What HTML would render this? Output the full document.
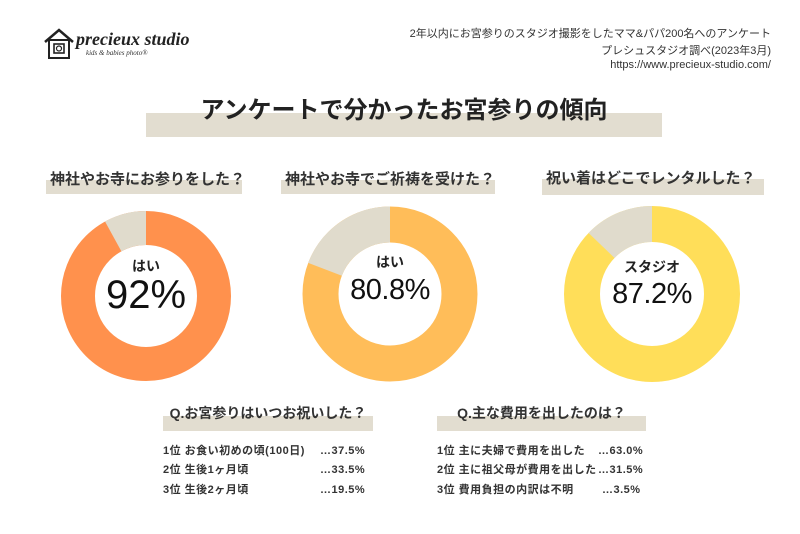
<!DOCTYPE html>
<html><head><meta charset="utf-8"><style>
body{margin:0;width:800px;height:534px;background:#fff;position:relative;overflow:hidden;font-family:"Liberation Sans","Noto Sans CJK JP",sans-serif;color:#222}
.a{position:absolute;white-space:nowrap}
.bar{position:absolute;background:#e2ddd0}
.h{font-weight:bold;font-size:15px;color:#333}
.r{font-size:11px;color:#333;right:29px;text-align:right}
.l{font-size:11px;color:#333;font-weight:bold;letter-spacing:0.5px;line-height:14px}
.p{line-height:1;text-align:center}
</style></head><body>
<svg class="a" style="left:43px;top:28px" width="32" height="34" viewBox="0 0 32 34">
<path d="M2 14 L16 2 L30 14" fill="none" stroke="#222" stroke-width="2.5"/>
<rect x="6" y="12" width="20" height="18" fill="none" stroke="#222" stroke-width="2"/>
<rect x="11" y="16" width="10" height="9" fill="none" stroke="#222" stroke-width="1.6"/>
<circle cx="16" cy="20.5" r="2.5" fill="none" stroke="#222" stroke-width="1.2"/>
</svg>
<div class="a" style="left:76px;top:29px;font-family:'Liberation Serif',serif;font-style:italic;font-weight:bold;font-size:18px;color:#222">precieux studio</div>
<div class="a" style="left:86px;top:49px;font-family:'Liberation Serif',serif;font-style:italic;font-size:7px;color:#333">kids &amp; babies photo®</div>
<div class="a r" style="top:25px">2年以内にお宮参りのスタジオ撮影をしたママ&amp;パパ200名へのアンケート</div>
<div class="a r" style="top:42px">プレシュスタジオ調べ(2023年3月)</div>
<div class="a r" style="top:59px">https://www.precieux-studio.com/</div>
<div class="bar" style="left:146px;top:113px;width:516px;height:24px"></div>
<div class="a" style="left:146px;width:516px;text-align:center;top:90px;font-size:24px;font-weight:bold;color:#222">アンケートで分かったお宮参りの傾向</div>
<div class="bar" style="left:46px;top:180px;width:196px;height:14px"></div>
<div class="a h" style="left:50px;top:168px">神社やお寺にお参りをした？</div>
<div class="bar" style="left:281px;top:180px;width:214px;height:14px"></div>
<div class="a h" style="left:285px;top:168px">神社やお寺でご祈祷を受けた？</div>
<div class="bar" style="left:542px;top:179px;width:222px;height:16px"></div>
<div class="a h" style="left:546px;top:167px">祝い着はどこでレンタルした？</div>
<svg class="a" style="left:0;top:0" width="800" height="534">
<g transform="translate(146,296)"><circle r="68" fill="none" stroke="#ff914d" stroke-width="34"/>
<circle r="68" fill="none" stroke="#e0dbcc" stroke-width="34" stroke-dasharray="34.2 1000" transform="rotate(-90) scale(1,-1)"/></g>
<g transform="translate(390,294)"><circle r="69.5" fill="none" stroke="#ffbd59" stroke-width="36"/>
<circle r="69.5" fill="none" stroke="#e0dbcc" stroke-width="36" stroke-dasharray="83.9 1000" transform="rotate(-90) scale(1,-1)"/></g>
<g transform="translate(652,294)"><circle r="70" fill="none" stroke="#ffde59" stroke-width="36"/>
<circle r="70" fill="none" stroke="#e0dbcc" stroke-width="36" stroke-dasharray="56.3 1000" transform="rotate(-90) scale(1,-1)"/></g>
</svg>
<div class="a" style="left:96px;width:100px;text-align:center;top:256px;font-size:14px;font-weight:bold">はい</div>
<div class="a p" style="left:86px;width:120px;top:275px;font-size:40px;color:#111">92%</div>
<div class="a" style="left:340px;width:100px;text-align:center;top:252px;font-size:14px;font-weight:bold">はい</div>
<div class="a p" style="left:330px;width:120px;top:276px;font-size:29px;letter-spacing:-0.5px;color:#111">80.8%</div>
<div class="a" style="left:602px;width:100px;text-align:center;top:257px;font-size:14px;font-weight:bold">スタジオ</div>
<div class="a p" style="left:592px;width:120px;top:280px;font-size:29px;letter-spacing:-0.5px;color:#111">87.2%</div>
<div class="bar" style="left:163px;top:416px;width:210px;height:15px"></div>
<div class="a" style="left:163px;width:210px;text-align:center;top:403px;font-size:14px;font-weight:bold;color:#333">Q.お宮参りはいつお祝いした？</div>
<div class="bar" style="left:437px;top:416px;width:209px;height:15px"></div>
<div class="a" style="left:437px;width:209px;text-align:center;top:403px;font-size:14px;font-weight:bold;color:#333">Q.主な費用を出したのは？</div>
<div class="a l" style="left:163px;top:444px">1位 お食い初めの頃(100日)</div><div class="a l" style="left:320px;top:444px">…37.5%</div>
<div class="a l" style="left:163px;top:463px">2位 生後1ヶ月頃</div><div class="a l" style="left:320px;top:463px">…33.5%</div>
<div class="a l" style="left:163px;top:483px">3位 生後2ヶ月頃</div><div class="a l" style="left:320px;top:483px">…19.5%</div>
<div class="a l" style="left:437px;top:444px">1位 主に夫婦で費用を出した</div><div class="a l" style="left:598px;top:444px">…63.0%</div>
<div class="a l" style="left:437px;top:463px">2位 主に祖父母が費用を出した</div><div class="a l" style="left:598px;top:463px">…31.5%</div>
<div class="a l" style="left:437px;top:483px">3位 費用負担の内訳は不明</div><div class="a l" style="left:602px;top:483px">…3.5%</div>
</body></html>
